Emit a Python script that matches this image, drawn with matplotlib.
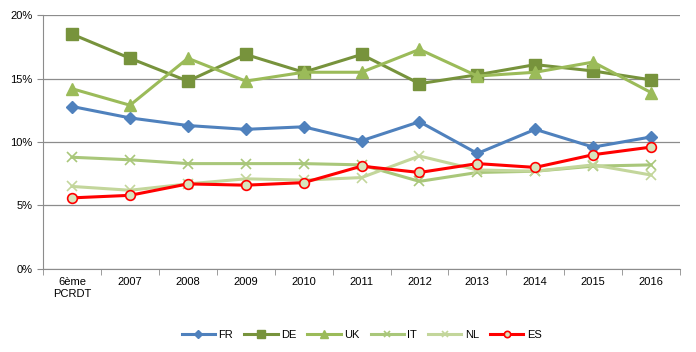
import matplotlib.pyplot as plt
from matplotlib.ticker import FuncFormatter, MultipleLocator, FixedLocator

plt.rcParams['font.family'] = ['Liberation Sans', 'DejaVu Sans']

categories = ["6ème\nPCRDT", "2007", "2008", "2009", "2010", "2011",
              "2012", "2013", "2014", "2015", "2016"]
fr = [12.8, 11.9, 11.3, 11.0, 11.2, 10.1, 11.6, 9.1, 11.0, 9.6, 10.4]
de = [18.5, 16.6, 14.8, 16.9, 15.5, 16.9, 14.6, 15.3, 16.1, 15.6, 14.9]
uk = [14.2, 12.9, 16.6, 14.8, 15.5, 15.5, 17.3, 15.2, 15.5, 16.3, 13.9]
it = [8.8, 8.6, 8.3, 8.3, 8.3, 8.2, 6.9, 7.6, 7.7, 8.1, 8.2]
nl = [6.5, 6.2, 6.7, 7.1, 7.0, 7.2, 8.9, 7.8, 7.7, 8.2, 7.4]
es = [5.6, 5.8, 6.7, 6.6, 6.8, 8.1, 7.6, 8.3, 8.0, 9.0, 9.6]

x = list(range(len(categories)))

fig = plt.figure(figsize=(6.96, 3.52), dpi=100)
ax = fig.add_axes([0.062, 0.236, 0.915, 0.721])

ax.plot(x, fr, color="#4F81BD", lw=2.2, marker="D", ms=6, label="FR")
ax.plot(x, de, color="#77933C", lw=2.2, marker="s", ms=8, label="DE")
ax.plot(x, uk, color="#9BBB59", lw=2.2, marker="^", ms=8, label="UK")
ax.plot(x, it, color="#A9C77A", lw=2.2, marker="x", ms=7, mew=1.2, label="IT")
ax.plot(x, nl, color="#C3D69B", lw=2.2, marker="x", ms=7, mew=1.2, label="NL")
ax.plot(x, es, color="#FF0000", lw=2.2, marker="o", ms=7, mfc="#D7E4BD",
        mec="#FF0000", mew=1.2, label="ES")

ax.set_xlim(-0.5, len(categories) - 0.5)
ax.set_ylim(0, 20)
ax.yaxis.set_major_locator(MultipleLocator(5))
ax.yaxis.set_major_formatter(FuncFormatter(lambda v, p: "%d%%" % v))
ax.grid(axis="y", color="#8C8C8C", lw=0.9)
ax.set_axisbelow(True)

ax.set_xticks(x)
ax.set_xticklabels(categories, fontsize=8)
ax.xaxis.set_minor_locator(FixedLocator([i - 0.5 for i in range(len(categories) + 1)]))
ax.tick_params(axis="x", which="major", length=0, pad=6)
ax.tick_params(axis="x", which="minor", length=4, color="#8C8C8C", direction="out")
ax.tick_params(axis="y", length=4, color="#8C8C8C", labelsize=8)

for s in ["top", "right"]:
    ax.spines[s].set_visible(False)
ax.spines["left"].set_color("#8C8C8C")
ax.spines["bottom"].set_color("#8C8C8C")

ax.legend(loc="upper center", bbox_to_anchor=(0.5, -0.2), ncol=6, frameon=False,
          fontsize=8, handlelength=3, columnspacing=1.0, handletextpad=0.3,
          markerscale=0.65)

fig.savefig("out.png", dpi=100)
